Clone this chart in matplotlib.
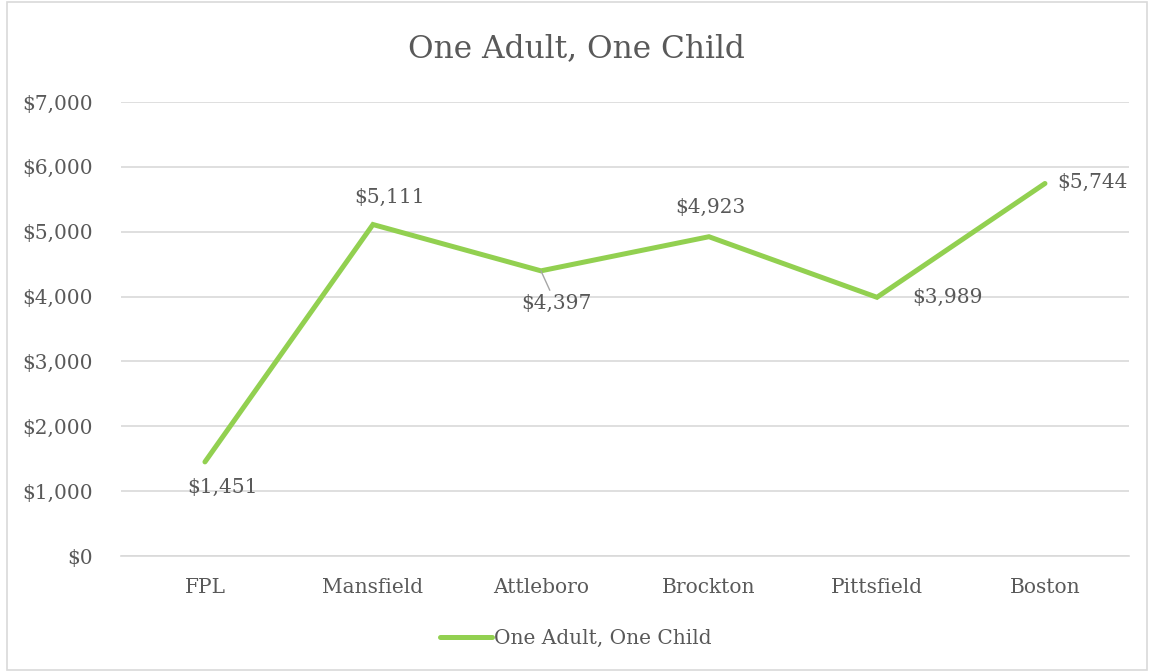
import matplotlib

matplotlib.use("Agg")
import matplotlib.pyplot as plt  # noqa: E402
from matplotlib.patches import Rectangle  # noqa: E402

_INK = "#595959"
_GREEN = "#92D050"
_GRID = "#D9D9D9"

categories = ["FPL", "Mansfield", "Attleboro", "Brockton", "Pittsfield", "Boston"]
values = [1451, 5111, 4397, 4923, 3989, 5744]
series_name = "One Adult, One Child"
yticks = [0, 1000, 2000, 3000, 4000, 5000, 6000, 7000]
# label offsets in pixels (dx, dy)
label_offsets = [(18, -26), (17, 27), (15, -33), (1, 29), (71, 0), (47, 1)]

plt.rcParams.update({"font.family": ["DejaVu Serif"],
                     "text.color": _INK, "xtick.color": _INK, "ytick.color": _INK})

fig = plt.figure(figsize=(11.52, 6.72), dpi=100)
fig.patches.append(Rectangle((0.006, 0.003), 0.99, 0.994, transform=fig.transFigure,
                             fill=False, edgecolor=_GRID, linewidth=1.2))
ax = fig.add_axes([0.105, 0.1726, 0.875, 0.6756])

x = list(range(len(categories)))
ax.plot(x, values, color=_GREEN, linewidth=3.6, solid_capstyle="round",
        solid_joinstyle="miter", label=series_name, zorder=3)
for xi, v, (dx, dy) in zip(x, values, label_offsets):
    arrow = None
    if dy < -30:
        arrow = dict(arrowstyle="-", color="#A6A6A6", lw=1, shrinkA=1, shrinkB=0)
    ax.annotate(f"${v:,}", (xi, v), xytext=(dx, dy), textcoords="offset pixels",
                ha="center", va="center", fontsize=14.5, color=_INK, arrowprops=arrow)

ax.set_xlim(-0.5, len(categories) - 0.5)
ax.set_ylim(0, 7000)
ax.set_yticks(yticks)
ax.set_yticklabels([f"${t:,}" for t in yticks])
ax.set_xticks(x)
ax.set_xticklabels(categories)
ax.tick_params(axis="both", length=0, labelsize=14.5)
ax.tick_params(axis="y", pad=20)
ax.tick_params(axis="x", pad=16)
ax.grid(axis="y", color=_GRID, linewidth=1.2)
ax.set_axisbelow(True)
for s in ("top", "right", "left"):
    ax.spines[s].set_visible(False)
ax.spines["bottom"].set_color(_GRID)
ax.spines["bottom"].set_linewidth(1.2)

fig.text(0.5, 0.927, series_name, ha="center", va="center", fontsize=22.5, color=_INK)
fig.legend(loc="center", bbox_to_anchor=(0.5, 0.05), frameon=False, fontsize=14.5,
           handlelength=2.6, handletextpad=0.1)

fig.savefig("out.png", dpi=100)
